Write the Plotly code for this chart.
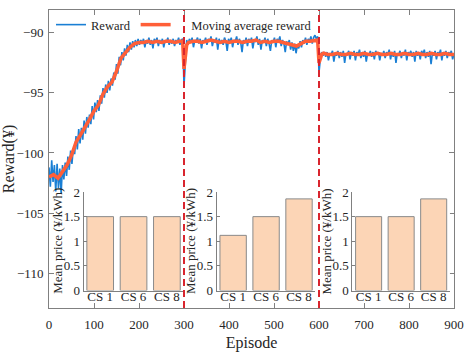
import plotly.graph_objects as go

# ---------------- data ----------------
reward_episode = list(range(0, 901, 3))
reward_seg1 = [
    -101.2, -102.8, -100.6, -102.4, -101.0, -103.2, -100.9, -102.9, -101.3, -103.4,
    -101.0, -102.2, -100.8, -101.9, -100.3, -101.4, -99.8, -100.9, -99.6, -100.1,
    -98.6, -99.7, -98.0, -99.2, -97.9, -98.9, -97.3, -98.4, -97.0, -97.9,
    -96.8, -97.6, -96.1, -97.2, -95.8, -96.6, -95.6, -96.5, -95.2, -95.9,
    -94.6, -95.4, -94.3, -95.0, -94.0, -94.8, -93.8, -94.4, -93.3, -93.9,
    -92.6, -93.4, -92.0, -92.7, -91.6, -92.3, -91.3, -91.9, -91.0, -91.6,
    -90.8, -91.4, -90.7, -91.2, -90.6, -91.1, -90.5, -91.0, -90.6, -90.9,
    -90.5, -91.2, -90.6, -90.9, -90.4, -91.0, -90.6, -91.3, -90.5, -90.8,
    -90.4, -91.1, -90.6, -90.9, -90.5, -91.2, -90.6, -90.8, -90.4, -91.0,
    -90.6, -90.9, -90.5, -91.1, -90.6, -90.8, -90.4, -91.0, -90.6, -90.5,
]
reward_seg2 = [
    -94.4, -91.8, -90.6, -91.0, -90.5, -90.8, -90.4, -91.2, -90.6, -90.7,
    -90.4, -90.9, -90.5, -91.3, -90.6, -90.8, -90.4, -91.0, -90.5, -90.7,
    -90.3, -91.1, -90.6, -90.8, -90.4, -91.4, -90.5, -90.9, -90.6, -91.0,
    -90.4, -90.7, -91.5, -90.5, -90.8, -90.4, -91.2, -90.6, -90.7, -90.3,
    -91.0, -90.5, -90.8, -91.6, -90.6, -90.9, -90.4, -91.1, -90.5, -90.8,
    -90.4, -91.3, -90.6, -90.7, -90.3, -91.0, -90.5, -91.4, -90.6, -90.8,
    -90.4, -91.1, -90.5, -90.9, -91.5, -90.6, -90.8, -90.4, -91.2, -90.5,
    -90.7, -90.3, -91.1, -90.6, -90.9, -91.6, -90.7, -91.0, -90.6, -91.4,
    -90.8, -91.5, -90.9, -91.7, -91.0, -91.3, -90.7, -91.2, -90.6, -90.9,
    -90.4, -91.0, -90.5, -90.7, -90.3, -90.9, -90.4, -90.2, -90.5, -90.3,
]
reward_seg3 = [
    -93.3, -92.2, -91.6, -91.9, -91.6, -92.0, -91.6, -92.3, -91.7, -91.8,
    -91.5, -92.4, -91.7, -91.9, -91.5, -92.1, -91.6, -92.0, -91.5, -92.5,
    -91.7, -91.8, -91.5, -92.2, -91.6, -91.9, -91.5, -92.3, -91.6, -91.8,
    -91.4, -92.1, -91.6, -92.0, -91.5, -92.4, -91.7, -91.9, -91.5, -92.0,
    -91.6, -92.2, -91.5, -91.8, -91.6, -92.3, -91.7, -91.9, -91.5, -92.1,
    -91.6, -91.8, -91.4, -92.2, -91.6, -92.0, -91.5, -92.5, -91.7, -91.8,
    -91.5, -92.1, -91.6, -91.9, -91.4, -92.3, -91.6, -91.8, -91.5, -92.0,
    -91.6, -92.4, -91.5, -91.9, -91.6, -92.2, -91.5, -91.8, -91.4, -92.1,
    -91.6, -92.0, -91.5, -92.6, -91.7, -91.9, -91.5, -92.2, -91.6, -91.8,
    -91.4, -92.3, -91.6, -91.9, -91.5, -92.1, -91.6, -91.8, -91.5, -92.2,
    -91.7,
]
reward_value = reward_seg1 + reward_seg2 + reward_seg3

ma_episode = [
    0, 10, 20, 30, 40, 50, 60, 70, 80, 90, 100, 110, 120, 130, 140, 150, 160, 170, 180, 190,
    200, 210, 220, 230, 240, 250, 260, 270, 280, 290, 297,
    300, 303, 306, 310, 320, 330, 340, 350, 360, 370, 380, 390, 400, 410, 420, 430, 440, 450,
    460, 470, 480, 490, 500, 510, 520, 530, 540, 550, 560, 570, 580, 590, 597,
    600, 603, 606, 610, 620, 630, 640, 650, 660, 670, 680, 690, 700, 710, 720, 730, 740, 750,
    760, 770, 780, 790, 800, 810, 820, 830, 840, 850, 860, 870, 880, 890, 900,
]
ma_value = [
    -102.0, -101.8, -102.1, -101.6, -101.0, -100.2, -99.1, -98.5, -97.9, -97.2,
    -96.5, -96.0, -95.1, -94.5, -94.1, -93.2, -92.1, -91.6, -91.2, -90.9,
    -90.8, -90.8, -90.7, -90.8, -90.7, -90.8, -90.7, -90.7, -90.8, -90.7, -90.7,
    -93.0, -91.8, -91.0, -90.8, -90.7, -90.7, -90.8, -90.7, -90.6, -90.7, -90.8, -90.7,
    -90.8, -90.7, -90.7, -90.8, -90.7, -90.7, -90.6, -90.8, -90.7, -90.8, -90.7, -90.7,
    -90.8, -90.9, -91.0, -91.1, -90.9, -90.7, -90.7, -90.6, -90.6,
    -92.5, -92.0, -91.8, -91.7, -91.8, -91.8, -91.7, -91.8, -91.8, -91.7, -91.8, -91.8,
    -91.7, -91.8, -91.8, -91.7, -91.8, -91.8, -91.7, -91.8, -91.8, -91.7, -91.8, -91.8,
    -91.7, -91.8, -91.8, -91.7, -91.8, -91.8, -91.7, -91.8, -91.8,
]

phase_boundaries = [300, 600]

stations = ["CS 1", "CS 6", "CS 8"]
price_phase1 = [1.5, 1.5, 1.5]
price_phase2 = [1.12, 1.5, 1.86]
price_phase3 = [1.5, 1.5, 1.86]

x_ticks = [0, 100, 200, 300, 400, 500, 600, 700, 800, 900]
y_ticks = [-110, -105, -100, -95, -90]
inset_ticks = [0, 0.5, 1, 1.5, 2]

# ---------------- styles ----------------
FONT = "Liberation Serif"
TXT = "#262626"
AX = "#808080"
BLUE = "#1a7fd4"
ORANGE = "#ff5f38"
RED = "#d9252e"
BARFILL = "#fcd5b6"
BAREDGE = "#8a8a8a"

fig = go.Figure()

fig.add_trace(go.Scatter(
    x=reward_episode, y=reward_value, mode="lines", name="Reward",
    line=dict(color=BLUE, width=1.6), xaxis="x", yaxis="y"))
fig.add_trace(go.Scatter(
    x=ma_episode, y=ma_value, mode="lines",
    name="\u00a0\u00a0\u00a0\u00a0\u00a0Moving average reward",
    line=dict(color=ORANGE, width=3.5), xaxis="x", yaxis="y"))

for xb in phase_boundaries:
    fig.add_shape(type="line", xref="x", yref="paper", x0=xb, x1=xb, y0=0, y1=1,
                  line=dict(color=RED, width=2, dash="7px,4px"), layer="above")

prices = [price_phase1, price_phase2, price_phase3]
domains = [[0.0852, 0.3323], [0.414, 0.658], [0.749, 0.990]]
ydom = [0.0585, 0.3893]
ann = []
for i, (pr, dom) in enumerate(zip(prices, domains)):
    k = i + 2
    fig.add_trace(go.Bar(
        x=stations, y=pr, showlegend=False, width=0.8,
        marker=dict(color=BARFILL, line=dict(color=BAREDGE, width=1)),
        xaxis=f"x{k}", yaxis=f"y{k}"))
    fig.layout[f"xaxis{k}"] = dict(
        domain=dom, anchor=f"y{k}", range=[-0.5, 2.5], showline=True, linecolor=AX,
        linewidth=1, ticks="", showgrid=False,
        tickfont=dict(family=FONT, size=13, color=TXT), ticklabelstandoff=-6)
    fig.layout[f"yaxis{k}"] = dict(
        domain=ydom, anchor=f"x{k}", range=[0, 2], tickvals=inset_ticks,
        ticktext=["0", "0.5", "1", "1.5", "2"], showline=True, linecolor=AX,
        linewidth=1, ticks="inside", ticklen=3, tickcolor=AX, showgrid=False,
        zeroline=False, tickfont=dict(family=FONT, size=13, color=TXT), ticklabelstandoff=0)
    ann.append(dict(
        text="Mean price (¥/kWh)", textangle=-90, xref=f"x{k} domain", yref="paper",
        x=0, y=(ydom[0] + ydom[1]) / 2, xanchor="center", yanchor="middle",
        xshift=-26, showarrow=False, font=dict(family=FONT, size=13, color=TXT)))

fig.update_layout(
    width=470, height=353,
    margin=dict(l=48, r=16, t=3, b=45),
    paper_bgcolor="white", plot_bgcolor="white",
    font=dict(family=FONT, size=13, color=TXT),
    xaxis=dict(range=[0, 900], tickvals=x_ticks, ticks="inside", ticklen=5,
               tickcolor=AX, showline=True, linecolor=AX, linewidth=1, mirror="ticks",
               showgrid=False, zeroline=False, ticklabelstandoff=4,
               tickfont=dict(family=FONT, size=13, color=TXT),
               title=dict(text="Episode", font=dict(family=FONT, size=16, color=TXT), standoff=6)),
    yaxis=dict(range=[-112.9, -88.1], tickvals=y_ticks, ticks="inside", ticklen=5,
               tickcolor=AX, showline=True, linecolor=AX, linewidth=1, mirror="ticks",
               showgrid=False, zeroline=False, ticklabelstandoff=2,
               tickfont=dict(family=FONT, size=13, color=TXT),
               title=dict(text="Reward(¥)", font=dict(family=FONT, size=16, color=TXT), standoff=2)),
    legend=dict(orientation="h", x=0.005, y=1, xanchor="left", yanchor="top",
                bgcolor="rgba(0,0,0,0)", font=dict(family=FONT, size=12.5, color=TXT),
                tracegroupgap=0),
    annotations=ann,
    bargap=0.2,
)

fig.write_html("out.html", config={"displayModeBar": False},
               post_script="document.body.style.margin='0';")
